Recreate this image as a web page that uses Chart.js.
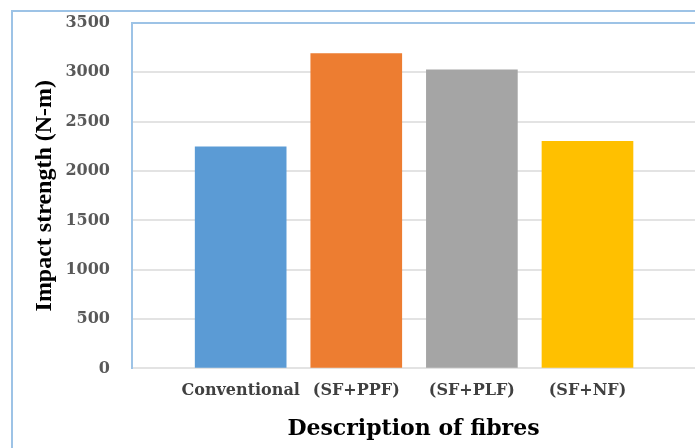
<!DOCTYPE html>
<html>
<head>
<meta charset="utf-8">
<script src="https://cdn.jsdelivr.net/npm/chart.js@4.4.1/dist/chart.umd.min.js"></script>
<style>
    html, body { margin: 0; padding: 0; background: #fff; overflow: hidden; }
    #wrap { position: relative; width: 695px; height: 448px; }
    #frame {
        position: absolute; left: 11px; top: 10px; width: 1000px; height: 1000px;
        border-left: 2px solid #9dc3e6; border-top: 2px solid #9dc3e6;
        pointer-events: none;
    }
</style>
</head>
<body>
<div id="wrap">
    <canvas id="impactChart" width="695" height="448"></canvas>
    <div id="frame"></div>
</div>
<script>
// --- Chart data ---
const fibreTypes = ['Conventional', '(SF+PPF)', '(SF+PLF)', '(SF+NF)'];
const impactStrength = [2245, 3190, 3025, 2300];
const barColors = ['#5b9bd5', '#ed7d31', '#a5a5a5', '#ffc000'];
const yTicks = [0, 500, 1000, 1500, 2000, 2500, 3000, 3500];

const frameBlue = '#9dc3e6';
const gridGray = '#e3e3e3';

// bars sit on a numeric x axis so the empty margin left of the first bar is kept
const barPoints = fibreTypes.map((name, i) => ({ x: i, y: impactStrength[i] }));

const ctx = document.getElementById('impactChart').getContext('2d');
const impactChart = new Chart(ctx, {
    type: 'bar',
    data: {
        datasets: [{
            data: barPoints,
            backgroundColor: barColors,
            borderWidth: 0,
            barThickness: 91
        }]
    },
    options: {
        responsive: false,
        animation: false,
        layout: { padding: { left: 30, top: 23, right: 0, bottom: 6 } },
        plugins: { legend: { display: false }, tooltip: { enabled: false } },
        scales: {
            x: {
                type: 'linear',
                offset: false,
                min: -0.94,
                max: 3.93,
                afterBuildTicks: scale => { scale.ticks = fibreTypes.map((_, i) => ({ value: i })); },
                grid: { display: false },
                border: { color: gridGray, width: 2 },
                ticks: {
                    autoSkip: false,
                    maxRotation: 0,
                    padding: 5,
                    color: '#404040',
                    font: { family: 'DejaVu Serif', size: 16, weight: 'bold' },
                    callback: value => fibreTypes[value]
                },
                title: {
                    display: true,
                    text: 'Description of fibres',
                    color: '#000',
                    padding: { top: 10, bottom: 0 },
                    font: { family: 'DejaVu Serif', size: 22, weight: 'bold' }
                }
            },
            y: {
                min: 0,
                max: 3500,
                afterBuildTicks: scale => { scale.ticks = yTicks.map(v => ({ value: v })); },
                afterFit: scale => {
                    scale.width = 102;
                    scale.paddingTop = 0;
                },
                grid: {
                    drawTicks: false,
                    lineWidth: 2,
                    color: c => (c.tick && c.tick.value === 3500) ? frameBlue : gridGray
                },
                border: { color: frameBlue, width: 2 },
                ticks: {
                    padding: 22,
                    color: '#595959',
                    font: { family: 'DejaVu Serif', size: 16, weight: 'bold' },
                    callback: value => String(value)
                },
                title: {
                    display: true,
                    text: 'Impact strength (N-m)',
                    color: '#000',
                    padding: { top: 0, bottom: 6 },
                    font: { family: 'Liberation Serif', size: 24, weight: 'bold' }
                }
            }
        }
    }
});
</script>
</body>
</html>
